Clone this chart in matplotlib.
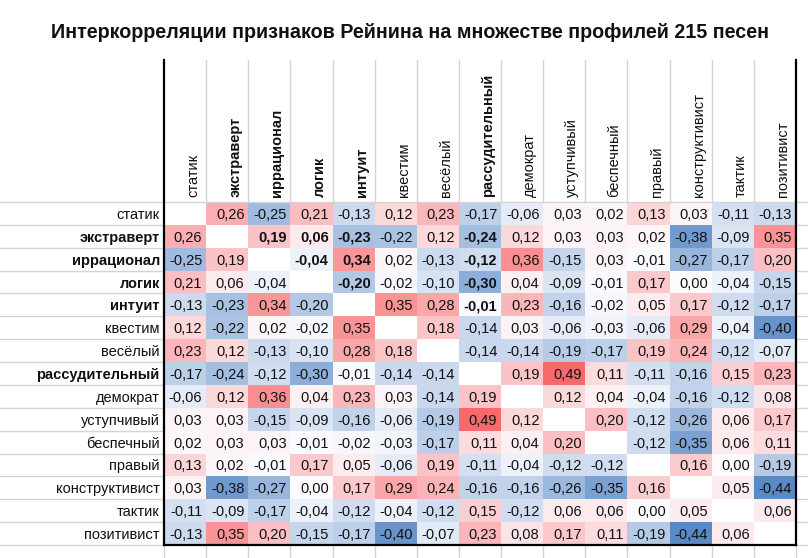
import numpy as np
import matplotlib
matplotlib.use("Agg")
import matplotlib.pyplot as plt
from matplotlib.colors import LinearSegmentedColormap, TwoSlopeNorm
from matplotlib import transforms
from matplotlib.lines import Line2D
from matplotlib import font_manager

title = "Интеркорреляции признаков Рейнина на множестве профилей 215 песен"

labels = ["статик", "экстраверт", "иррационал", "логик", "интуит", "квестим",
          "весёлый", "рассудительный", "демократ", "уступчивый", "беспечный",
          "правый", "конструктивист", "тактик", "позитивист"]
bold_labels = ["экстраверт", "иррационал", "логик", "интуит", "рассудительный"]

N = None
corr = [
    [N, 0.26, -0.25, 0.21, -0.13, 0.12, 0.23, -0.17, -0.06, 0.03, 0.02, 0.13, 0.03, -0.11, -0.13],
    [0.26, N, 0.19, 0.06, -0.23, -0.22, 0.12, -0.24, 0.12, 0.03, 0.03, 0.02, -0.38, -0.09, 0.35],
    [-0.25, 0.19, N, -0.04, 0.34, 0.02, -0.13, -0.12, 0.36, -0.15, 0.03, -0.01, -0.27, -0.17, 0.20],
    [0.21, 0.06, -0.04, N, -0.20, -0.02, -0.10, -0.30, 0.04, -0.09, -0.01, 0.17, 0.00, -0.04, -0.15],
    [-0.13, -0.23, 0.34, -0.20, N, 0.35, 0.28, -0.01, 0.23, -0.16, -0.02, 0.05, 0.17, -0.12, -0.17],
    [0.12, -0.22, 0.02, -0.02, 0.35, N, 0.18, -0.14, 0.03, -0.06, -0.03, -0.06, 0.29, -0.04, -0.40],
    [0.23, 0.12, -0.13, -0.10, 0.28, 0.18, N, -0.14, -0.14, -0.19, -0.17, 0.19, 0.24, -0.12, -0.07],
    [-0.17, -0.24, -0.12, -0.30, -0.01, -0.14, -0.14, N, 0.19, 0.49, 0.11, -0.11, -0.16, 0.15, 0.23],
    [-0.06, 0.12, 0.36, 0.04, 0.23, 0.03, -0.14, 0.19, N, 0.12, 0.04, -0.04, -0.16, -0.12, 0.08],
    [0.03, 0.03, -0.15, -0.09, -0.16, -0.06, -0.19, 0.49, 0.12, N, 0.20, -0.12, -0.26, 0.06, 0.17],
    [0.02, 0.03, 0.03, -0.01, -0.02, -0.03, -0.17, 0.11, 0.04, 0.20, N, -0.12, -0.35, 0.06, 0.11],
    [0.13, 0.02, -0.01, 0.17, 0.05, -0.06, 0.19, -0.11, -0.04, -0.12, -0.12, N, 0.16, 0.00, -0.19],
    [0.03, -0.38, -0.27, 0.00, 0.17, 0.29, 0.24, -0.16, -0.16, -0.26, -0.35, 0.16, N, 0.05, -0.44],
    [-0.11, -0.09, -0.17, -0.04, -0.12, -0.04, -0.12, 0.15, -0.12, 0.06, 0.06, 0.00, 0.05, N, 0.06],
    [-0.13, 0.35, 0.20, -0.15, -0.17, -0.40, -0.07, 0.23, 0.08, 0.17, 0.11, -0.19, -0.44, 0.06, N],
]

names = {f.name for f in font_manager.fontManager.ttflist}
base_font = "Liberation Sans" if "Liberation Sans" in names else "DejaVu Sans"
title_font = "Liberation Sans Narrow" if "Liberation Sans Narrow" in names else base_font
plt.rcParams["font.family"] = [base_font, "DejaVu Sans"]

W, H = 808, 558
L, R, T, B = 164, 796, 202, 545
HEAD_TOP = 60
GRID = "#d4d4d4"
FS = 10.5

fig = plt.figure(figsize=(W / 100, H / 100), dpi=100)
fig.patch.set_facecolor("white")
ax = fig.add_axes([L / W, 1 - B / H, (R - L) / W, (B - T) / H])

n = len(labels)
M = np.ma.masked_invalid(np.array(corr, dtype=float))
cmap = LinearSegmentedColormap.from_list("xl", ["#5A8AC6", "#FCFCFF", "#F8696B"])
cmap.set_bad("white")
norm = TwoSlopeNorm(vmin=float(M.min()), vcenter=0.0, vmax=float(M.max()))
ax.pcolormesh(np.arange(n + 1), np.arange(n + 1), M, cmap=cmap, norm=norm)
ax.set_xlim(0, n)
ax.set_ylim(n, 0)
ax.set_xticks([])
ax.set_yticks([])
for s in ax.spines.values():
    s.set_visible(False)

# grid lines outside matrix
tr_h = transforms.blended_transform_factory(fig.transFigure, ax.transData)
tr_v = transforms.blended_transform_factory(ax.transData, fig.transFigure)
for i in range(n + 1):
    ax.add_line(Line2D([0, L / W], [i, i], transform=tr_h, color=GRID, lw=1, clip_on=False))
    ax.add_line(Line2D([R / W, 1], [i, i], transform=tr_h, color=GRID, lw=1, clip_on=False))
ax.add_line(Line2D([0, n], [0, 0], color=GRID, lw=1, clip_on=False))
for j in range(1, n):
    ax.add_line(Line2D([j, j], [1 - T / H, 1 - HEAD_TOP / H], transform=tr_v, color=GRID, lw=1, clip_on=False))
for j in range(0, n + 2):
    ax.add_line(Line2D([j, j], [0, 1 - B / H], transform=tr_v, color=GRID, lw=1, clip_on=False))
# black borders
for j in (0, n):
    ax.add_line(Line2D([j, j], [1 - B / H, 1 - HEAD_TOP / H], transform=tr_v, color="black", lw=1.6, clip_on=False, zorder=5))
ax.add_line(Line2D([0, n], [n, n], color="black", lw=1.6, clip_on=False, zorder=5))

def fmt(v):
    return f"{v:.2f}".replace(".", ",")

for i in range(n):
    for j in range(n):
        v = corr[i][j]
        if v is None:
            continue
        bold = i < j and labels[i] in bold_labels and labels[j] in bold_labels
        ax.text(j + 1 - 0.09, i + 0.5, fmt(v), ha="right", va="center_baseline",
                fontsize=FS, fontweight="bold" if bold else "normal", color="#111111")

for i, lab in enumerate(labels):
    ax.text(-0.1, i + 0.5, lab, ha="right", va="center_baseline", fontsize=FS,
            fontweight="bold" if lab in bold_labels else "normal", color="#111111", clip_on=False)
    ax.text(i + 0.5 + 0.19, -0.2, lab, ha="center", va="bottom", rotation=90, fontsize=FS,
            fontweight="bold" if lab in bold_labels else "normal", color="#111111", clip_on=False)

t = fig.text(410 / W, 1 - 33 / H, title, ha="center", va="center",
             fontsize=15, fontweight="bold", family=[title_font, "DejaVu Sans"], color="#111111")
fig.canvas.draw()
bb = t.get_window_extent()
target = 725.0
t.set_fontsize(15 * target / bb.width)

fig.savefig("out.png", dpi=100, facecolor="white")
